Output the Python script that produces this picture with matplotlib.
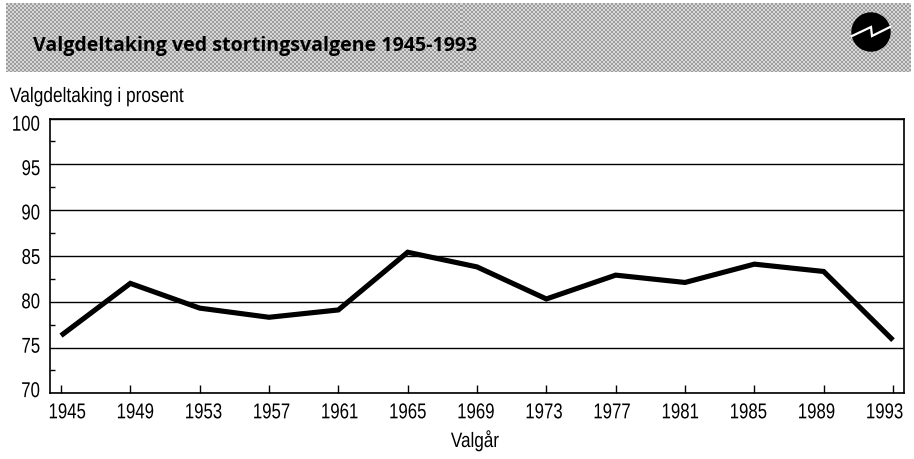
import numpy as np
import matplotlib
matplotlib.use("Agg")
import matplotlib.pyplot as plt
from matplotlib.patches import Circle
from matplotlib.patheffects import AbstractPathEffect
from matplotlib.ticker import MultipleLocator
from matplotlib.transforms import Affine2D

years = [1945, 1949, 1953, 1957, 1961, 1965, 1969, 1973, 1977, 1981, 1985, 1989, 1993]
turnout = [76.3, 82.0, 79.3, 78.3, 79.1, 85.4, 83.8, 80.3, 82.9, 82.1, 84.1, 83.3, 75.8]
y_ticks = [70, 75, 80, 85, 90, 95, 100]
title = "Valgdeltaking ved stortingsvalgene 1945-1993"
y_title = "Valgdeltaking i prosent"
x_title = "Valgår"

W, H = 914, 460
plt.rcParams['font.family'] = ['Liberation Sans', 'DejaVu Sans']
fig = plt.figure(figsize=(W / 100, H / 100), dpi=100)


class Narrow(AbstractPathEffect):
    """Condense glyphs horizontally about the text's left/centre/right."""
    def __init__(self, sx, anchor):
        super().__init__()
        self.sx, self.anchor = sx, anchor

    def draw_path(self, renderer, gc, tpath, affine, rgbFace=None):
        e = tpath.get_extents(affine)
        a = {'left': e.x0, 'center': (e.x0 + e.x1) / 2, 'right': e.x1}[self.anchor]
        t = affine + Affine2D().translate(-a, 0).scale(self.sx, 1).translate(a, 0)
        renderer.draw_path(gc, tpath, t, rgbFace)


def px_axes(x0, y0, x1, y1, **kw):
    return fig.add_axes([x0 / W, 1 - y1 / H, (x1 - x0) / W, (y1 - y0) / H], **kw)


# banner
bn = px_axes(6, 4, 910, 73)
yy, xx = np.mgrid[0:69, 0:904]
bn.imshow(((xx // 2 + yy // 2) % 2) * 0.22 + 0.62, cmap='gray', vmin=0, vmax=1, aspect='auto',
          interpolation='nearest', extent=(6, 910, 73, 4))
bn.set_xlim(6, 910); bn.set_ylim(73, 4); bn.axis('off')
bn.text(33, 46.5, title, family=['Open Sans'], fontweight='bold', fontsize=14.1,
        color='black', va='center', ha='left')
bn.add_patch(Circle((871, 33), 19, color='black', zorder=3))
bn.plot([852, 871, 872, 890], [37, 28, 37, 28], color='white', lw=1.6, zorder=4,
        solid_joinstyle='miter')

# main axes
ax = px_axes(50, 119.5, 904, 394.3)
ax.set_xlim(1945 - 11 / 17.33, 1993 + 11 / 17.33)
ax.set_ylim(70, 100)
ax.set_yticks(y_ticks)
ax.yaxis.set_minor_locator(MultipleLocator(2.5))
ax.set_xticks(years)
ax.grid(axis='y', which='major', color='black', lw=1.0)
ax.set_axisbelow(True)
for s in ax.spines.values():
    s.set_linewidth(1.2)
ax.tick_params(axis='x', which='major', direction='in', length=5.5, width=1, pad=6.5, labelsize=15.5)
ax.tick_params(axis='y', which='major', direction='in', length=0, pad=7, labelsize=15.5)
ax.tick_params(axis='y', which='minor', direction='in', length=3.6, width=1)
# the reference's tick labels are spaced slightly tighter than its ticks
for tick, yr in zip(ax.xaxis.get_major_ticks(), years):
    lab = tick.label1
    lab.set_path_effects([Narrow(0.78, 'center')])
    lab.set_transform(lab.get_transform() + Affine2D().translate(6 - (yr - 1945) * 0.306, 0))
for tick, v in zip(ax.yaxis.get_major_ticks(), y_ticks):
    lab = tick.label1
    lab.set_path_effects([Narrow(0.78, 'right')])
    lab.set_transform(lab.get_transform() + Affine2D().translate(0, (85 - v) * 0.28))
ax.plot(years, turnout, color='black', lw=3.7, solid_joinstyle='miter', solid_capstyle='butt')

fig.text(10 / W, 1 - 103 / H, y_title, fontsize=15, va='baseline', ha='left',
         path_effects=[Narrow(0.83, 'left')])
fig.text(475 / W, 1 - 448 / H, x_title, fontsize=15, va='baseline', ha='center',
         path_effects=[Narrow(0.82, 'center')])
fig.savefig('out.png', dpi=100)
